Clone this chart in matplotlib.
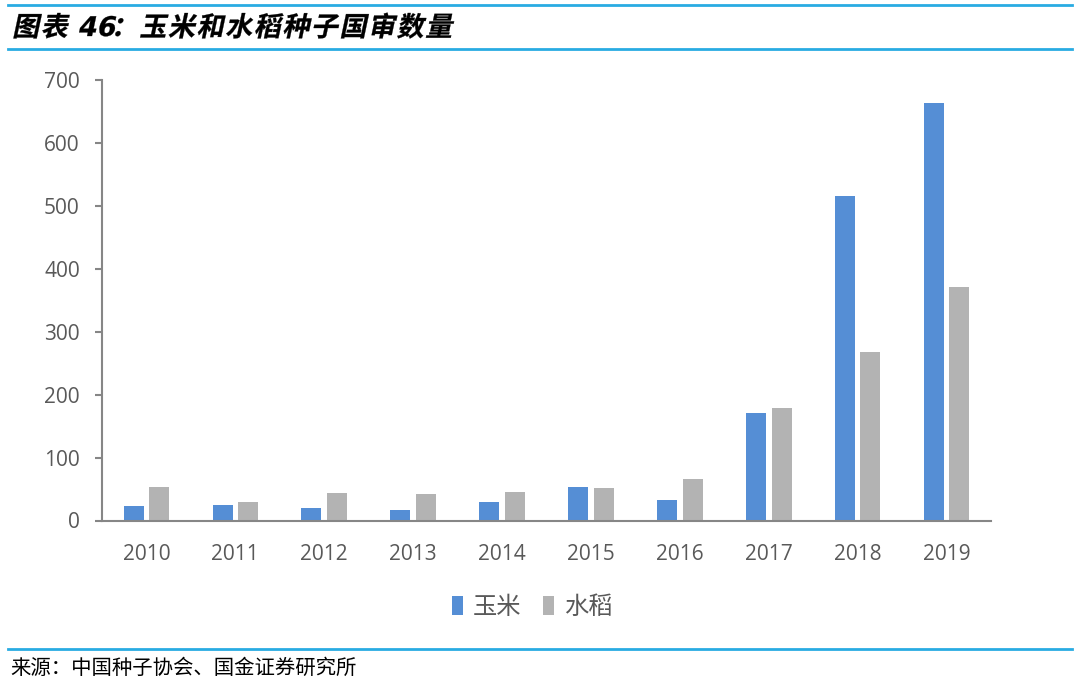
import matplotlib
matplotlib.use('Agg')
import matplotlib.pyplot as plt
from matplotlib.textpath import TextPath
from matplotlib.patches import PathPatch
from matplotlib.font_manager import FontProperties
from matplotlib.transforms import Affine2D
import numpy as np

plt.rcParams['font.family'] = ['Noto Sans CJK SC', 'DejaVu Sans']

years = ['2010', '2011', '2012', '2013', '2014', '2015', '2016', '2017', '2018', '2019']
corn = [23, 25, 20, 17, 29, 54, 33, 171, 515, 664]
rice = [54, 29, 44, 42, 46, 52, 66, 178, 268, 371]
series_names = ['玉米', '水稻']

BLUE = '#558ED5'
GRAY = '#B3B3B3'
LINE = '#29ABE2'
TXT = '#595959'
NUM_FONT = ['Open Sans', 'DejaVu Sans']

W, H = 1080, 685
fig = plt.figure(figsize=(W / 100, H / 100), dpi=100)
ax = fig.add_axes([102 / W, 1 - 520.5 / H, 889 / W, 440.5 / H])

x = np.arange(len(years))
w = 0.225
off = 0.144
ax.bar(x - off, corn, w, color=BLUE, label=series_names[0])
ax.bar(x + off, rice, w, color=GRAY, label=series_names[1])

ax.set_xlim(-0.5, len(years) - 0.5)
ax.set_ylim(0, 700)
ax.set_yticks(range(0, 701, 100))
ax.set_xticks(x)
ax.set_xticklabels(years)
ax.tick_params(axis='y', colors='#868686', labelcolor=TXT, labelsize=15, length=5,
               width=1.5, direction='out', pad=11)
ax.tick_params(axis='x', length=0, labelcolor=TXT, labelsize=15, pad=17)
for lab in ax.get_xticklabels() + ax.get_yticklabels():
    lab.set_family(NUM_FONT)
for s in ['top', 'right']:
    ax.spines[s].set_visible(False)
for s in ['left', 'bottom']:
    ax.spines[s].set_color('#868686')
    ax.spines[s].set_linewidth(1.5)

leg = ax.legend(loc='center', bbox_to_anchor=(532 / W, 1 - 607 / H),
                bbox_transform=fig.transFigure, ncol=2, frameon=False,
                fontsize=17.5, handlelength=0.45, handleheight=0.8,
                handletextpad=0.4, columnspacing=0.9)
for t in leg.get_texts():
    t.set_color(TXT)

# header / footer rules
for yy in [5, 49, 649]:
    fig.add_artist(plt.Line2D([8 / W, 1072 / W], [1 - yy / H] * 2,
                              color=LINE, linewidth=2, transform=fig.transFigure))

# italic (skewed) bold title, laid out char by char for a little spacing
title_parts = [('图表', ['Noto Sans CJK SC'], 8), ('46', ['DejaVu Sans'], -7),
               ('：玉米和水稻种子国审数量', ['Noto Sans CJK SC'], 0)]
tx = 12
for s, fam, gap in title_parts:
    prop = FontProperties(family=fam, weight='bold')
    chunks = [s] if fam == ['DejaVu Sans'] else list(s)
    for ch in chunks:
        tp = TextPath((0, 0), ch, prop=prop, size=19.5)
        tr = (Affine2D().skew_deg(12, 0).scale(100 / 72)
              .translate(tx, H - 36) + Affine2D().scale(1 / 100) + fig.dpi_scale_trans)
        fig.add_artist(PathPatch(tp, transform=tr, facecolor='black', edgecolor='black',
                                 linewidth=0.2))
        adv = 19.5 if fam != ['DejaVu Sans'] else tp.get_extents().x1 + 2
        tx += adv * 100 / 72 + 1.5
    tx += gap

fig.text(10 / W, 1 - 668 / H, '来源：中国种子协会、国金证券研究所', fontsize=14.7,
         va='center', ha='left')

fig.savefig('out.png', dpi=100)
